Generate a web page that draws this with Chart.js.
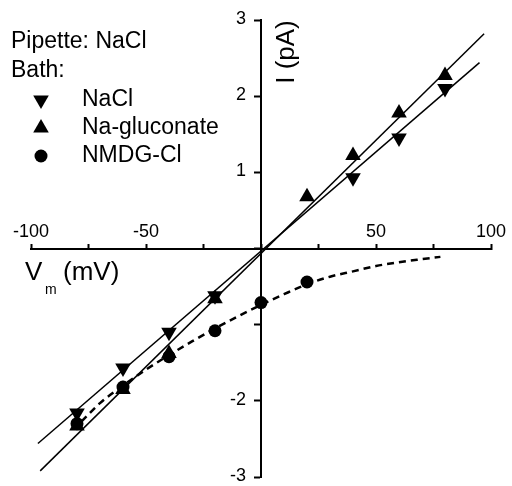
<!DOCTYPE html>
<html>
<head>
<meta charset="utf-8">
<script src="https://cdn.jsdelivr.net/npm/chart.js@4.4.1/dist/chart.umd.min.js"></script>
<style>
body { margin: 0; background: #fff; }
</style>
</head>
<body>
<canvas id="ivChart" width="512" height="486"></canvas>
<script>
// measured points (mV, pA)
const naclV = [-80, -60, -40, -20, 40, 60, 80];
const naclI = [-2.16, -1.57, -1.10, -0.62, 0.93, 1.45, 2.10];
const glucV = [-80, -60, -40, -20, 20, 40, 60, 80];
const glucI = [-2.33, -1.85, -1.38, -0.66, 0.68, 1.22, 1.78, 2.27];
const nmdgV = [-80, -60, -40, -20, 0, 20];
const nmdgI = [-2.30, -1.82, -1.42, -1.08, -0.71, -0.44];

// fitted lines
const naclFitV = [-97, 95];
const naclFitI = [-2.56, 2.44];
const glucFitV = [-96, 97];
const glucFitI = [-2.92, 2.82];
const nmdgFitV = [-78, -70, -60, -50, -40, -30, -20, -10, 0, 10, 20, 30, 40, 50, 60, 70, 78];
const nmdgFitI = [-2.27, -2.03, -1.80, -1.59, -1.40, -1.22, -1.05, -0.89, -0.74, -0.60, -0.47, -0.37, -0.30, -0.23, -0.18, -0.14, -0.11];

const xTickLabels = [-100, -50, 50, 100];
const yTickLabels = [3, 2, 1, -2, -3];

const fontFamily = "'Liberation Sans', Arial, sans-serif";

function toPoints(xs, ys) {
    return xs.map((x, i) => ({ x: x, y: ys[i] }));
}

const textPlugin = {
    id: "ivText",
    afterDraw(chart) {
        const ctx = chart.ctx;
        const xScale = chart.scales.x;
        const yScale = chart.scales.y;
        ctx.save();
        ctx.fillStyle = "#000";
        ctx.textBaseline = "middle";

        // y tick labels, left of the centred axis
        ctx.font = "18px " + fontFamily;
        ctx.textAlign = "right";
        const axisX = xScale.getPixelForValue(0);
        yTickLabels.forEach((v) => {
            ctx.fillText(String(v), axisX - 15, yScale.getPixelForValue(v) - 1);
        });
        ctx.textAlign = "left";

        ctx.font = "23px " + fontFamily;
        ctx.fillText("Pipette: NaCl", 11, 42);
        ctx.fillText("Bath:", 11, 71);

        const rows = [
            { label: "NaCl", ds: 0, y: 100 },
            { label: "Na-gluconate", ds: 1, y: 128 },
            { label: "NMDG-Cl", ds: 2, y: 156 },
        ];
        rows.forEach((row) => {
            const ds = chart.data.datasets[row.ds];
            Chart.helpers.drawPoint(
                ctx,
                {
                    pointStyle: ds.pointStyle,
                    rotation: ds.rotation || 0,
                    radius: ds.pointRadius,
                    borderWidth: 0,
                },
                41,
                row.y
            );
            ctx.fillText(row.label, 82, row.y);
        });

        ctx.font = "26px " + fontFamily;
        ctx.fillText("V", 25, 273);
        ctx.font = "14px " + fontFamily;
        ctx.fillText("m", 45, 290);
        ctx.font = "26px " + fontFamily;
        ctx.fillText("(mV)", 63, 273);

        ctx.translate(287, 52);
        ctx.rotate(-Math.PI / 2);
        ctx.textAlign = "center";
        ctx.fillText("I (pA)", 0, 0);
        ctx.restore();
    },
};

const ctx = document.getElementById("ivChart");

new Chart(ctx, {
    type: "scatter",
    data: {
        datasets: [
            {
                label: "NaCl",
                data: toPoints(naclV, naclI),
                pointStyle: "triangle",
                rotation: 180,
                pointRadius: 9,
                backgroundColor: "#000",
                borderWidth: 0,
            },
            {
                label: "Na-gluconate",
                data: toPoints(glucV, glucI),
                pointStyle: "triangle",
                pointRadius: 9,
                backgroundColor: "#000",
                borderWidth: 0,
            },
            {
                label: "NMDG-Cl",
                data: toPoints(nmdgV, nmdgI),
                pointStyle: "circle",
                pointRadius: 6.5,
                backgroundColor: "#000",
                borderWidth: 0,
            },
            {
                label: "NaCl fit",
                data: toPoints(naclFitV, naclFitI),
                showLine: true,
                pointRadius: 0,
                borderColor: "#000",
                borderWidth: 1.5,
            },
            {
                label: "Na-gluconate fit",
                data: toPoints(glucFitV, glucFitI),
                showLine: true,
                pointRadius: 0,
                borderColor: "#000",
                borderWidth: 1.5,
            },
            {
                label: "NMDG-Cl fit",
                data: toPoints(nmdgFitV, nmdgFitI),
                showLine: true,
                pointRadius: 0,
                borderColor: "#000",
                borderWidth: 2.5,
                borderDash: [7, 5],
                cubicInterpolationMode: "monotone",
            },
        ],
    },
    options: {
        responsive: false,
        animation: false,
        layout: { padding: { left: 31, right: 21, top: 20, bottom: 8 } },
        plugins: {
            legend: { display: false },
            tooltip: { enabled: false },
        },
        scales: {
            x: {
                type: "linear",
                min: -100,
                max: 100,
                position: { y: 0 },
                border: { color: "#000", width: 2 },
                grid: {
                    drawOnChartArea: false,
                    tickLength: -6,
                    tickWidth: 2,
                    tickColor: "#000",
                },
                ticks: {
                    stepSize: 25,
                    autoSkip: false,
                    maxRotation: 0,
                    padding: -21,
                    color: "#000",
                    font: { size: 18, family: fontFamily },
                    callback: (v) => (xTickLabels.includes(v) ? String(v) : ""),
                },
            },
            y: {
                type: "linear",
                min: -3,
                max: 3,
                position: { x: 0 },
                border: { color: "#000", width: 2 },
                grid: {
                    drawOnChartArea: false,
                    tickLength: 6,
                    tickWidth: 2,
                    tickColor: "#000",
                },
                ticks: {
                    stepSize: 1,
                    display: false,
                },
            },
        },
    },
    plugins: [textPlugin],
});
</script>
</body>
</html>
